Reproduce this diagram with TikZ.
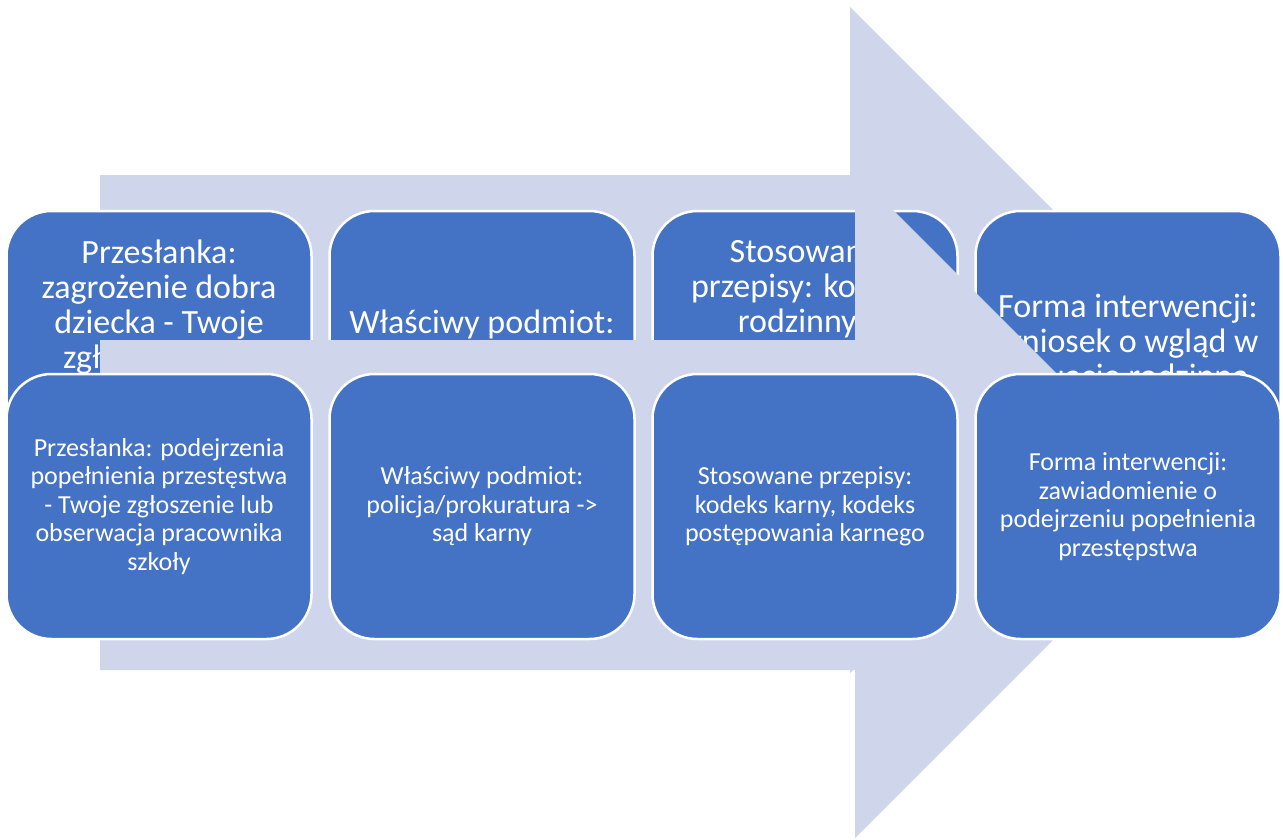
\documentclass[tikz,border=0pt]{standalone}
\usepackage{fontspec}
\setmainfont{Carlito}
\definecolor{boxblue}{RGB}{68,114,196}
\definecolor{arrowlav}{RGB}{207,213,234}
\begin{document}
\begin{tikzpicture}[x=1pt,y=-1pt,
    box/.style={draw=white,line width=2.5pt,fill=boxblue,rounded corners=45pt,minimum width=305pt,minimum height=265pt,inner sep=0pt,align=center,text=white},
    big/.style={box,font=\fontsize{34}{35}\selectfont},
    small/.style={box,font=\fontsize{26}{28.5}\selectfont}]
    \useasboundingbox (0,0) rectangle (1283,839);
    \fill[arrowlav] (100,175) -- (850,175) -- (850,7) -- (1183,340) -- (850,673) -- (850,505) -- (100,505) -- cycle;
    \node[big,text depth=78pt] (a1) at (159,343.5) {Przesłanka:\\zagrożenie dobra\\dziecka - Twoje\\zgłoszenie lub};
    \node[big,text depth=43pt] (a2) at (482,343.5) {Właściwy podmiot:};
    \node[big,text depth=113.5pt] (a3) at (805,343.5) {Stosowane\\przepisy: kodeks\\rodzinny i};
    \node[big] (a4) at (1128,343.5) {Forma interwencji:\\wniosek o wgląd w\\sytuację rodzinną};
    \fill[arrowlav] (100,340) -- (855,340) -- (855,172) -- (1188,505) -- (855,838) -- (855,670) -- (100,670) -- cycle;
    \node[small] (b1) at (159,506.5) {Przesłanka: podejrzenia\\popełnienia przestęstwa\\- Twoje zgłoszenie lub\\obserwacja pracownika\\szkoły};
    \node[small] (b2) at (482,506.5) {Właściwy podmiot:\\policja/prokuratura ->\\sąd karny};
    \node[small] (b3) at (805,506.5) {Stosowane przepisy:\\kodeks karny, kodeks\\postępowania karnego};
    \node[small] (b4) at (1128,506.5) {Forma interwencji:\\zawiadomienie o\\podejrzeniu popełnienia\\przestępstwa};
\end{tikzpicture}
\end{document}
